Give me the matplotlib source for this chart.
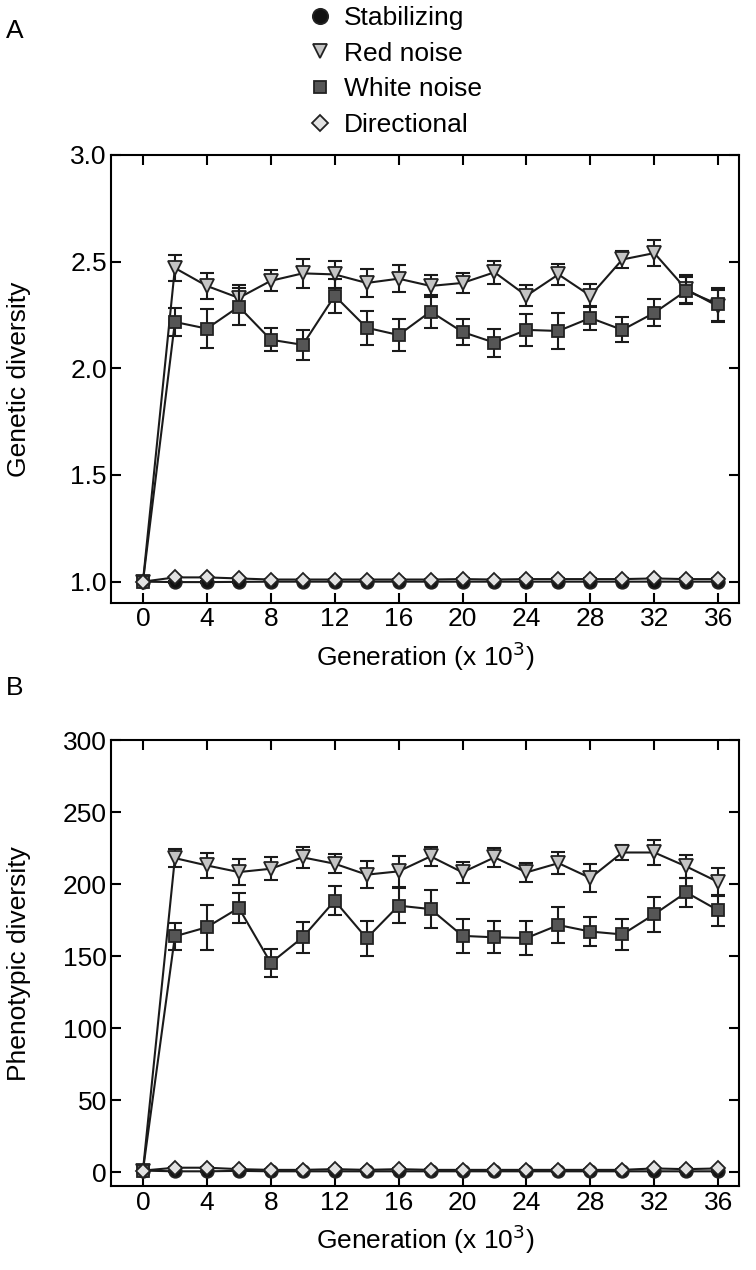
import numpy as np
import matplotlib
matplotlib.use("Agg")
import matplotlib.pyplot as plt
from matplotlib.lines import Line2D

plt.rcParams['font.family'] = ['Liberation Sans', 'DejaVu Sans']
plt.rcParams['font.size'] = 19

gen = [0, 2, 4, 6, 8, 10, 12, 14, 16, 18, 20, 22, 24, 26, 28, 30, 32, 34, 36]

# panel A: genetic diversity
gen_stab = [1.0, 0.998, 0.998, 0.999, 1.0, 1.0, 1.0, 1.0, 1.0, 1.0, 1.0, 1.0, 1.0, 1.0, 1.0, 1.0, 1.0, 1.0, 1.0]
gen_stab_err = [0.003] * 19
gen_red = [1.0, 2.47, 2.386, 2.33, 2.41, 2.445, 2.44, 2.40, 2.42, 2.386, 2.40, 2.45, 2.34, 2.44, 2.34, 2.51, 2.54, 2.37, 2.29]
gen_red_err = [0.0, 0.06, 0.06, 0.06, 0.05, 0.067, 0.065, 0.066, 0.062, 0.05, 0.048, 0.055, 0.05, 0.05, 0.055, 0.04, 0.06, 0.066, 0.075]
gen_white = [1.0, 2.217, 2.186, 2.289, 2.134, 2.11, 2.34, 2.19, 2.156, 2.266, 2.17, 2.12, 2.18, 2.175, 2.236, 2.18, 2.26, 2.364, 2.30]
gen_white_err = [0.0, 0.065, 0.09, 0.087, 0.055, 0.07, 0.08, 0.08, 0.074, 0.076, 0.062, 0.066, 0.076, 0.083, 0.055, 0.059, 0.064, 0.064, 0.077]
gen_dir = [1.0, 1.02, 1.02, 1.015, 1.01, 1.01, 1.01, 1.01, 1.01, 1.01, 1.012, 1.01, 1.012, 1.012, 1.012, 1.012, 1.015, 1.012, 1.012]
gen_dir_err = [0.003] * 19

# panel B: phenotypic diversity
phe_stab = [1.0, 0.5, 0.5, 0.8, 0.5, 0.5, 0.5, 0.5, 0.5, 0.5, 0.5, 0.5, 0.5, 0.5, 0.5, 0.5, 0.5, 0.5, 0.5]
phe_stab_err = [0.3] * 19
phe_red = [1.0, 218, 212.9, 208.3, 210.6, 218.5, 214.1, 206.5, 208.8, 219.2, 208.1, 218.5, 208.1, 214.5, 204.2, 221.9, 221.9, 212.2, 201.4]
phe_red_err = [0, 6, 8.4, 8.8, 8, 7.5, 6.6, 9.4, 11, 6.6, 7.4, 6.7, 6.4, 7.7, 10, 5.4, 8.8, 7.7, 10]
phe_white = [1.0, 163.7, 170.0, 183.4, 145.2, 163.0, 188.4, 162.3, 185.0, 182.6, 164.0, 163.0, 162.5, 171.5, 167.0, 165.0, 179.0, 194.2, 181.7]
phe_white_err = [0, 9.5, 15.6, 10.4, 10, 10.7, 10, 12.2, 12, 13, 12, 11, 12, 12.5, 10, 11, 12, 10, 11]
phe_dir = [1.0, 3.0, 3.0, 2.0, 1.5, 1.5, 2.0, 1.5, 2.0, 1.5, 1.5, 1.5, 1.5, 1.5, 1.5, 1.5, 2.5, 2.0, 2.5]
phe_dir_err = [0.5] * 19

labels = ['Stabilizing', 'Red noise', 'White noise', 'Directional']
markers = ['o', 'v', 's', 'D']
faces = ['#111111', '#c4c4c4', '#555555', '#e2e2e2']
sizes = [9, 10, 8.3, 7.6]
leg_sizes = [11, 10.5, 8.8, 8.2]
zorders = [2, 3, 4, 5]

fig = plt.figure(figsize=(7.56, 12.70), dpi=100)
axA = fig.add_axes([0.1468, 0.5252, 0.8307, 0.3528])
axB = fig.add_axes([0.1468, 0.0658, 0.8307, 0.3515])


def draw(ax, series):
    for (vals, err), m, fc, ms, z in zip(series, markers, faces, sizes, zorders):
        ax.errorbar(gen, vals, yerr=err, fmt='-', color='#1a1a1a', lw=1.5,
                    elinewidth=1.5, capsize=4.8, capthick=1.5, zorder=z)
        ax.plot(gen, vals, linestyle='none', marker=m, markersize=ms,
                markerfacecolor=fc, markeredgecolor='#222222',
                markeredgewidth=1.3, zorder=z + 0.5)
    ax.set_xlim(-2, 37.3)
    ax.set_xticks(range(0, 37, 4))
    ax.tick_params(direction='in', top=True, right=True, length=7, width=1.5, pad=3)
    for s in ax.spines.values():
        s.set_linewidth(1.5)
    ax.set_xlabel('Generation (x 10$^3$)', labelpad=6)
    ax.yaxis.set_label_coords(-0.128, 0.5)


draw(axA, [(gen_stab, gen_stab_err), (gen_red, gen_red_err),
           (gen_white, gen_white_err), (gen_dir, gen_dir_err)])
axA.set_ylim(0.9, 3.0)
axA.set_yticks([1.0, 1.5, 2.0, 2.5, 3.0])
axA.set_yticklabels(['1.0', '1.5', '2.0', '2.5', '3.0'])
axA.set_ylabel('Genetic diversity')

draw(axB, [(phe_stab, phe_stab_err), (phe_red, phe_red_err),
           (phe_white, phe_white_err), (phe_dir, phe_dir_err)])
axB.set_ylim(-10, 300)
axB.set_yticks(range(0, 301, 50))
axB.set_ylabel('Phenotypic diversity')

fig.text(0.008, 0.9756, 'A', ha='left', va='center')
fig.text(0.008, 0.458, 'B', ha='left', va='center')

handles = [Line2D([0], [0], linestyle='none', marker=m, markersize=ms,
                  markerfacecolor=fc, markeredgecolor='#222222', markeredgewidth=1.3)
           for m, fc, ms in zip(markers, faces, leg_sizes)]
fig.legend(handles, labels, loc='upper left', bbox_to_anchor=(0.378, 1.014),
           frameon=False, handlelength=0.8, handletextpad=0.5, labelspacing=0.44)

fig.savefig('out.png', dpi=100)
